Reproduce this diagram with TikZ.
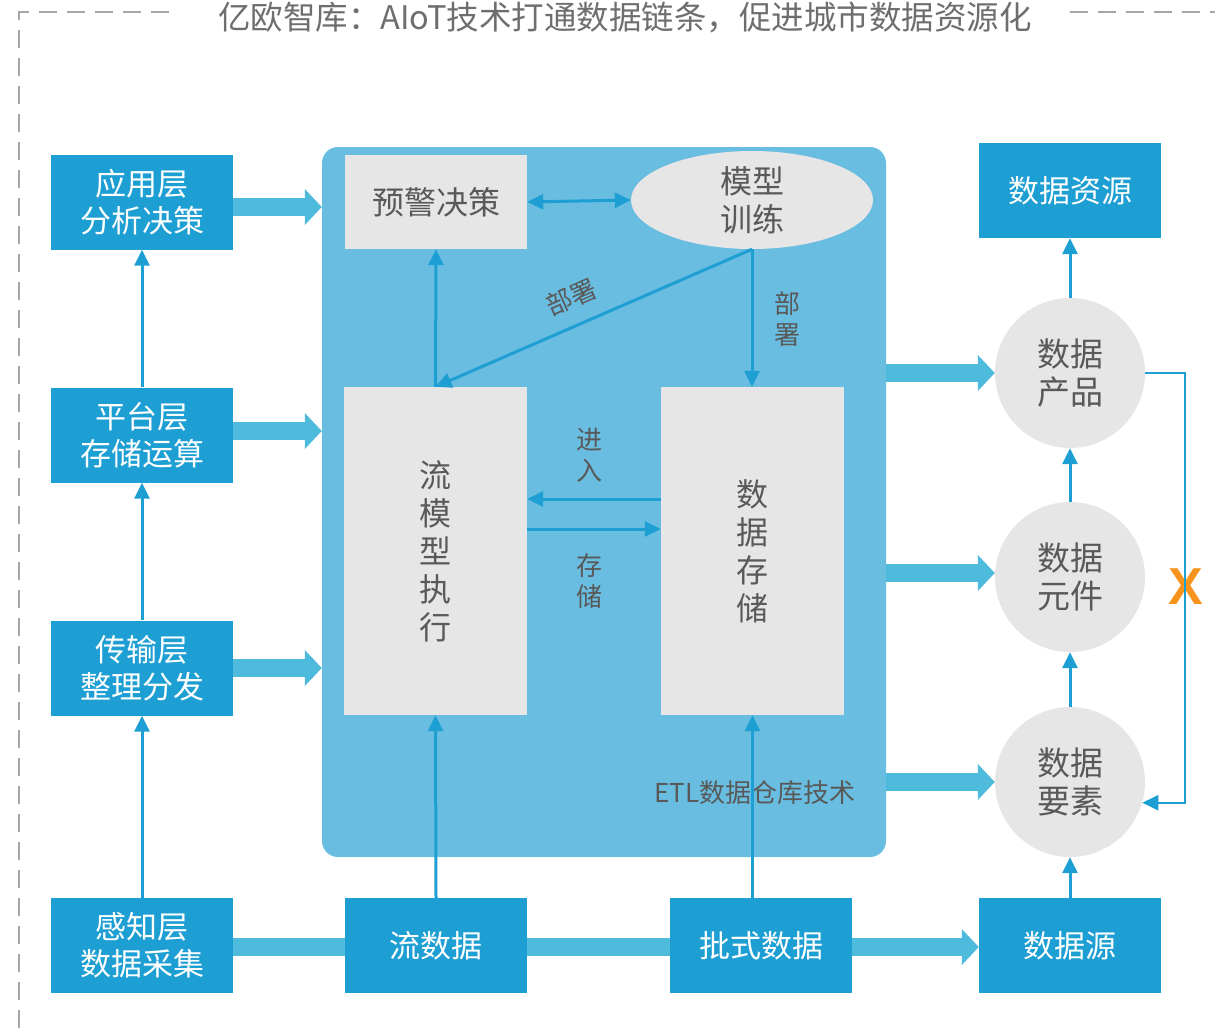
\documentclass[tikz,border=0pt]{standalone}
\usepackage{fontspec}
\setmainfont{Noto Sans CJK SC}
\newfontfamily\xfont{Liberation Sans}
\usetikzlibrary{arrows.meta,shapes.geometric}
\definecolor{dblue}{HTML}{1E9FD3}
\definecolor{panelc}{HTML}{69BDE0}
\definecolor{fatc}{HTML}{4EBADC}
\definecolor{lgray}{HTML}{E6E6E6}
\definecolor{tgray}{HTML}{595959}
\definecolor{framec}{HTML}{A6A6A6}
\definecolor{titlec}{HTML}{6E6E6E}
\definecolor{xorange}{HTML}{F7941D}
\begin{document}
\begin{tikzpicture}[x=1pt,y=-1pt,
  layerbox/.style={fill=dblue, text=white, minimum width=182pt, minimum height=95pt, inner sep=0pt, align=center, font=\fontsize{31}{37}\selectfont},
  graybox/.style={fill=lgray, text=tgray, inner sep=0pt, align=center, font=\fontsize{32}{38}\selectfont},
  circ/.style={circle, fill=lgray, minimum size=150pt, inner sep=0pt, text=tgray, align=center, font=\fontsize{33}{38}\selectfont},
  fat/.style={draw=fatc, line width=18pt, -{Triangle[length=17pt,width=35pt]}},
  fatline/.style={draw=fatc, line width=18pt},
  thinarr/.style={draw=dblue, line width=3pt, -{Triangle[length=16pt,width=15pt]}},
  lbl/.style={text=tgray, align=center, font=\fontsize{26}{31}\selectfont},
  frame/.style={draw=framec, line width=2pt, dash pattern=on 18pt off 10pt}
]
\useasboundingbox (0,0) rectangle (1215,1028);
% frame
\draw[frame] (19,1028) -- (19,12) -- (178,12);
\draw[frame] (1070,12) -- (1215,12);
\node[text=titlec, font=\fontsize{32.5}{36}\selectfont, inner sep=0pt] (title) at (625,17) {亿欧智库：AIoT技术打通数据链条，促进城市数据资源化};

% panel
\node[fill=panelc, rounded corners=16pt, minimum width=564pt, minimum height=710pt, inner sep=0pt] (panel) at (604,502) {};

% left layer boxes
\node[layerbox] (app) at (142,202) {应用层\\分析决策};
\node[layerbox] (plat) at (142,435) {平台层\\存储运算};
\node[layerbox] (trans) at (142,668) {传输层\\整理分发};
\node[layerbox] (sense) at (142,945.5) {感知层\\数据采集};

% bottom boxes
\node[layerbox] (stream) at (436,945.5) {流数据};
\node[layerbox] (batch) at (761,945.5) {批式数据};
\node[layerbox] (src) at (1070,945.5) {数据源};
\node[layerbox] (res) at (1070,190.5) {数据资源};

% inner boxes
\node[graybox, minimum width=182pt, minimum height=94pt] (warn) at (436,202) {预警决策};
\node[graybox, ellipse, minimum width=242pt, minimum height=98pt] (train) at (752,200) {模型\\训练};
\node[graybox, minimum width=183pt, minimum height=328pt] (flow) at (435.5,551) {流\\模\\型\\执\\行};
\node[graybox, minimum width=183pt, minimum height=328pt] (store) at (752.5,551) {数\\据\\存\\储};

% circles
\node[circ] (prod) at (1070,373) {数据\\产品};
\node[circ] (elem) at (1070,577) {数据\\元件};
\node[circ] (elemt) at (1070,782) {数据\\要素};

% labels
\node[lbl] (l1) at (589,455) {进\\入};
\node[lbl] (l2) at (589,581) {存\\储};
\node[lbl] (l3) at (787,319) {部\\署};
\node[lbl, rotate=24, inner sep=0pt] (l4) at (571,297) {部署};
\node[lbl, font=\fontsize{26}{31}\selectfont] (etl) at (755,793) {ETL数据仓库技术};
\node[text=xorange, font=\xfont\bfseries\fontsize{52}{52}\selectfont, inner sep=0pt] (xx) at (1186,587) {X};

% fat arrows left
\draw[fat] ([yshift=-5pt]app.east) -- ([yshift=-5pt]app.east -| panel.west);
\draw[fat] ([yshift=4pt]plat.east) -- ([yshift=4pt]plat.east -| panel.west);
\draw[fat] (trans.east) -- (trans.east -| panel.west);

% fat arrows right
\draw[fat] (prod.west -| panel.east) -- (prod.west);
\draw[fat] ([yshift=4pt]elem.west -| panel.east) -- ([yshift=4pt]elem.west);
\draw[fat] (elemt.west -| panel.east) -- (elemt.west);

% bottom band
\draw[fatline] ([yshift=-1.5pt]sense.east) -- ([yshift=-1.5pt]stream.west);
\draw[fatline] ([yshift=-1.5pt]stream.east) -- ([yshift=-1.5pt]batch.west);
\draw[fat] ([yshift=-1.5pt]batch.east) -- ([yshift=-1.5pt]src.west);

% left vertical arrows
\draw[thinarr] (plat.north) -- (app.south);
\draw[thinarr] (trans.north) -- (plat.south);
\draw[thinarr] (sense.north) -- (trans.south);

% bottom-up arrows
\draw[thinarr] (stream.north) -- (flow.south);
\draw[thinarr] (store.south |- batch.north) -- (store.south);

% inner arrows
\draw[thinarr, {Triangle[length=16pt,width=15pt]}-{Triangle[length=16pt,width=15pt]}] (warn.east) -- (train.west);
\draw[thinarr] (flow.north) -- (warn.south);
\draw[thinarr] (train.south) -- (flow.north);
\draw[thinarr] (train.south) -- (train.south |- store.north);
\draw[thinarr] ([yshift=52pt]store.west) -- ([yshift=52pt]flow.east);
\draw[thinarr] ([yshift=22pt]flow.east) -- ([yshift=22pt]store.west);

% right arrows
\draw[thinarr] (src.north) -- (elemt.south);
\draw[thinarr] (elemt.north) -- (elem.south);
\draw[thinarr] (elem.north) -- (prod.south);
\draw[thinarr] (prod.north) -- (res.south);
\draw[draw=dblue, line width=2pt, -{Triangle[length=16pt,width=15pt]}] (prod.east) -- ++(40,0) |- (elemt.-16);
\end{tikzpicture}
\end{document}
